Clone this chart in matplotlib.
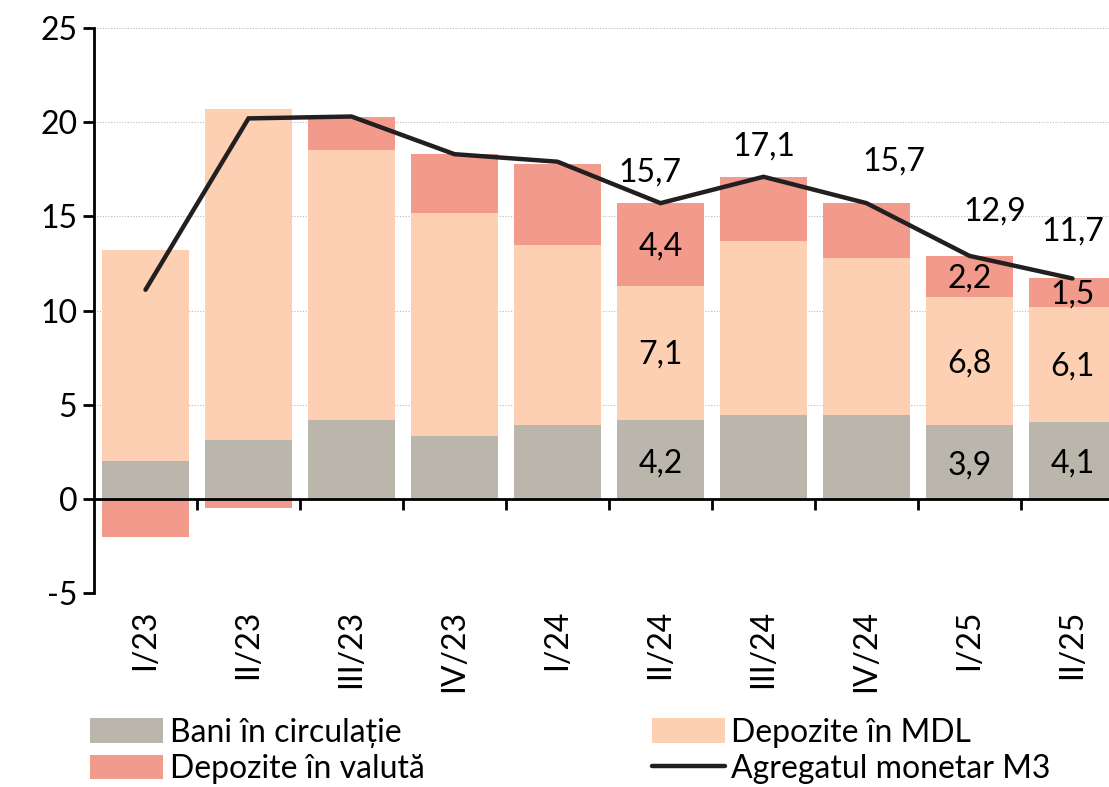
import numpy as np
import matplotlib.pyplot as plt

plt.rcParams['font.family'] = ['Lato', 'DejaVu Sans']
plt.rcParams['axes.unicode_minus'] = False

# date trimestriale (contributii, p.p.)
trimestre = ['I/23', 'II/23', 'III/23', 'IV/23', 'I/24', 'II/24', 'III/24', 'IV/24', 'I/25', 'II/25']
bani_circ = [2.0, 3.1, 4.2, 3.35, 3.9, 4.2, 4.45, 4.45, 3.9, 4.1]
dep_mdl = [11.2, 17.6, 14.3, 11.85, 9.6, 7.1, 9.25, 8.35, 6.8, 6.1]
dep_valuta = [-2.0, -0.5, 1.8, 3.1, 4.3, 4.4, 3.4, 2.9, 2.2, 1.5]
m3 = [11.1, 20.2, 20.3, 18.3, 17.9, 15.7, 17.1, 15.7, 12.9, 11.7]

# etichete afisate (doar pentru ultimele trimestre)
idx_etichete = [5, 8, 9]
idx_total = [5, 6, 7, 8, 9]
dx_total = [-8, 0, 20, 18, 0]  # deplasare in puncte
dy_total = [22, 22, 30, 32, 34]

c_bani = '#BAB6AB'
c_mdl = '#FDD0B4'
c_val = '#F29B8D'
c_m3 = '#231F20'

W, H = 1109, 787
fig = plt.figure(figsize=(W / 100, H / 100), dpi=100)
ax = fig.add_axes([94 / W, (H - 593) / H, 1030 / W, 565 / H])

x = np.arange(len(trimestre))
w = 0.835
bani = np.array(bani_circ)
mdl = np.array(dep_mdl)
val = np.array(dep_valuta)

b1 = ax.bar(x, bani, w, color=c_bani, label='Bani în circulație', zorder=2)
b2 = ax.bar(x, mdl, w, bottom=bani, color=c_mdl, label='Depozite în MDL', zorder=2)
baza_val = np.where(val >= 0, bani + mdl, 0)
b3 = ax.bar(x, val, w, bottom=baza_val, color=c_val, label='Depozite în valută', zorder=2)
ln, = ax.plot(x, m3, color=c_m3, lw=3.2, label='Agregatul monetar M3', zorder=3,
              solid_capstyle='round', solid_joinstyle='miter')

fs = 23
for i in idx_etichete:
    ax.text(x[i], bani[i] / 2 - 0.2, f'{bani[i]:.1f}'.replace('.', ','), ha='center', va='center', fontsize=fs, zorder=4)
    ax.text(x[i], bani[i] + mdl[i] / 2 - 0.1, f'{mdl[i]:.1f}'.replace('.', ','), ha='center', va='center', fontsize=fs, zorder=4)
    ax.text(x[i], bani[i] + mdl[i] + val[i] / 2 - 0.1, f'{val[i]:.1f}'.replace('.', ','), ha='center', va='center', fontsize=fs, zorder=4)
for k, i in enumerate(idx_total):
    ax.annotate(f'{m3[i]:.1f}'.replace('.', ','), (x[i], m3[i]), xytext=(dx_total[k], dy_total[k]),
                textcoords='offset points', ha='center', va='center', fontsize=fs, zorder=4,
                annotation_clip=False)

ax.set_xlim(-0.5, len(trimestre) - 0.5)
ax.set_ylim(-5, 25)
ax.set_yticks(np.arange(-5, 26, 5))
ax.grid(axis='y', color='#BBBBBB', ls=(0, (1, 1.5)), lw=0.8, zorder=0)

for s in ['top', 'right']:
    ax.spines[s].set_visible(False)
ax.spines['left'].set_linewidth(2)
ax.spines['bottom'].set_linewidth(2)
ax.spines['bottom'].set_position(('data', 0))
ax.spines['bottom'].set_zorder(3)

ax.set_xticks(x[1:] - 0.5)
ax.set_xticklabels([])
ax.tick_params(axis='x', direction='out', length=8, width=2)
ax.tick_params(axis='y', direction='out', length=8, width=2, labelsize=fs, pad=4)

for i, t in enumerate(trimestre):
    ax.annotate(t, (x[i], 0), xycoords=ax.get_xaxis_transform(), xytext=(0, -12),
                textcoords='offset points', rotation=90, ha='center', va='top', fontsize=fs)

fig.legend([b1, b3, b2, ln], [b1.get_label(), b3.get_label(), b2.get_label(), ln.get_label()],
           ncol=2, loc='lower left', bbox_to_anchor=(90 / W, 3 / H), frameon=False, fontsize=fs,
           handlelength=2.3, handleheight=0.8, handletextpad=0.2, columnspacing=7.1,
           labelspacing=0.2, borderaxespad=0, borderpad=0)

fig.savefig('out.png', dpi=100)
